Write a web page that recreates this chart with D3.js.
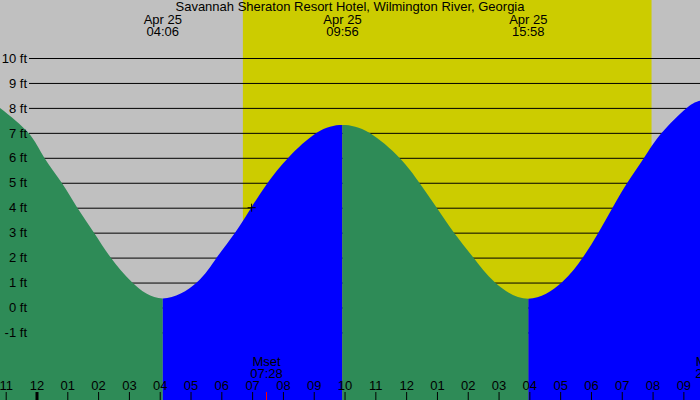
<!DOCTYPE html>
<html lang="en">
<head>
<meta charset="utf-8">
<title>Savannah Sheraton Resort Hotel, Wilmington River, Georgia</title>
<style>
  body { margin: 0; background: #fff; }
  svg text { font-family: "Liberation Sans", Arial, sans-serif; font-size: 13px; fill: #000; }
</style>
</head>
<body>
<script src="https://cdn.jsdelivr.net/npm/d3@7"></script>
<script>
// hours are counted from Apr 25 00:00
var title = "Savannah Sheraton Resort Hotel, Wilmington River, Georgia";
var viewHours = [-1.185, 21.54];

// high / low tides
var hiloDates = ["Apr 25", "Apr 25", "Apr 25"];
var hiloTimes = ["04:06", "09:56", "15:58"];
var hiloFeet = [0.36, 7.31, 0.35];

// points
var curveHours = [-1.185, -0.266, 0.253, 0.818, 1.325, 1.867, 2.409, 3.110, 4.1,
                  5.201, 5.851, 6.445, 6.97, 7.506, 8.175, 9.097, 9.933,
                  10.805, 11.779, 12.429, 12.994, 13.555, 14.182, 14.886, 15.967,
                  17.05, 17.734, 18.24, 18.70, 19.18, 19.724, 20.30, 21.11, 21.54];
var curveFeet = [8.0, 7, 6, 5, 4, 3, 2, 1, 0.36,
                 1, 2, 3, 4, 5, 6, 7, 7.31,
                 7, 6, 5, 4, 3, 2, 1, 0.35,
                 1, 2, 3, 4, 5, 6, 7, 8, 8.29];

var sunTimes = ["06:42", "19:58"];
var moonNames = ["Mset", "Mrise"];
var moonTimes = ["07:28", "21:55"];
var nowTime = "06:59", nowFeet = 4.0;

var feetTicks = [-1, 0, 1, 2, 3, 4, 5, 6, 7, 8, 9, 10];

var width = 700, height = 400;
var day = new Date(2024, 3, 25);
function atHour(h) { return new Date(+day + h * 3600e3); }
function atTime(s) { var p = s.split(":"); return atHour(+p[0] + p[1] / 60); }

var x = d3.scaleTime().domain(viewHours.map(atHour)).range([0, width]);
var y = d3.scaleLinear().domain([0, 10]).range([307.5, 58]);

var svg = d3.select("body").append("svg")
    .attr("width", width)
    .attr("height", height);

// night background and daylight band
svg.append("rect").attr("width", width).attr("height", height).attr("fill", "#c0c0c0");
svg.append("rect")
    .attr("x", x(atTime(sunTimes[0])))
    .attr("width", x(atTime(sunTimes[1])) - x(atTime(sunTimes[0])))
    .attr("height", height)
    .attr("fill", "#cccc00");

// grid lines behind the water
svg.append("g")
    .attr("transform", "translate(29,0)")
    .call(d3.axisRight(y).tickValues(feetTicks).tickSize(width - 29).tickFormat(""))
    .call(function(g) { g.select(".domain").remove(); })
    .selectAll("line").attr("stroke", "#000");

// water, green while falling and blue while rising
var pts = curveHours.map(function(h, i) { return [atHour(h), curveFeet[i]]; });
var area = d3.area()
    .x(function(d) { return x(d[0]); })
    .y0(height)
    .y1(function(d) { return y(d[1]); })
    .curve(d3.curveNatural);

var edges = [atHour(viewHours[0])].concat(hiloTimes.map(atTime), [atHour(viewHours[1])]);
var edgeFeet = [curveFeet[0]].concat(hiloFeet, [curveFeet[curveFeet.length - 1]]);
var defs = svg.append("defs");
for (var i = 0; i < edges.length - 1; i++) {
  var x0 = x(edges[i]), x1 = x(edges[i + 1]);
  defs.append("clipPath").attr("id", "seg" + i)
    .append("rect").attr("x", x0).attr("width", x1 - x0).attr("height", height);
  svg.append("path")
      .datum(pts)
      .attr("clip-path", "url(#seg" + i + ")")
      .attr("fill", edgeFeet[i + 1] > edgeFeet[i] ? "#0000ff" : "#2e8b57")
      .attr("d", area);
}

// foot labels
svg.append("g")
    .attr("transform", "translate(29,0)")
    .call(d3.axisLeft(y).tickValues(feetTicks).tickSize(0).tickPadding(2)
          .tickFormat(function(d) { return d + " ft"; }))
    .call(function(g) { g.select(".domain").remove(); })
    .selectAll("text").style("font-size", "13px").style("font-family", "Liberation Sans, Arial, sans-serif");

// hour axis along the bottom
var xAxis = svg.append("g")
    .attr("transform", "translate(0," + height + ")")
    .call(d3.axisTop(x).ticks(d3.timeHour.every(1)).tickSize(8).tickPadding(2)
          .tickFormat(d3.timeFormat("%I")));
xAxis.select(".domain").remove();
xAxis.selectAll("line").attr("stroke", "#000")
    .attr("stroke-width", function(d) { return d.getHours() === 0 ? 3 : 1; });
xAxis.selectAll("text").style("font-size", "13px").style("font-family", "Liberation Sans, Arial, sans-serif");

// moon rise / set
moonTimes.forEach(function(t, i) {
  var mx = x(atTime(t));
  svg.append("line").attr("x1", mx).attr("x2", mx).attr("y1", 392).attr("y2", height)
      .attr("stroke", "#ff0000");
  svg.append("text").attr("x", mx).attr("y", 366).attr("text-anchor", "middle").text(moonNames[i]);
  svg.append("text").attr("x", mx).attr("y", 378).attr("text-anchor", "middle").text(t);
});

// current time mark
var cx = x(atTime(nowTime)), cy = y(nowFeet);
svg.append("path")
    .attr("d", "M" + (cx - 4) + "," + cy + "H" + (cx + 4) + "M" + cx + "," + (cy - 4) + "V" + (cy + 4))
    .attr("stroke", "#000").attr("fill", "none");

// high / low labels
hiloTimes.forEach(function(t, i) {
  var hx = x(atTime(t));
  svg.append("text").attr("x", hx).attr("y", 24).attr("text-anchor", "middle").text(hiloDates[i]);
  svg.append("text").attr("x", hx).attr("y", 36).attr("text-anchor", "middle").text(t);
});

svg.append("text").attr("x", width / 2).attr("y", 11).attr("text-anchor", "middle").text(title);
</script>
</body>
</html>
